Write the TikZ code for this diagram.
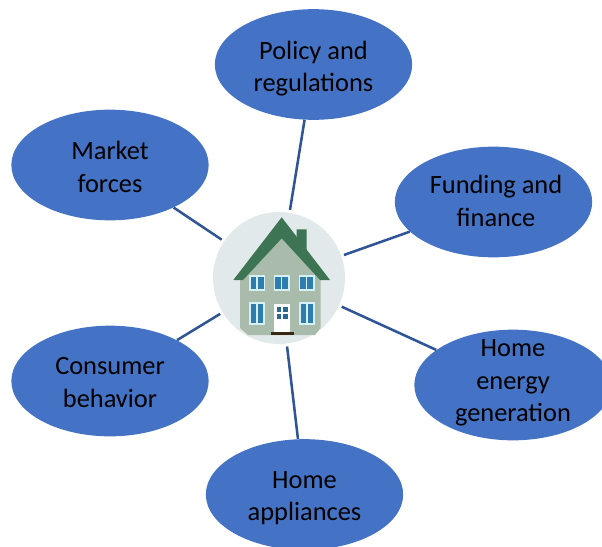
\documentclass[tikz,border=0pt]{standalone}
\usepackage{fontspec}
\setmainfont{Carlito}
\usetikzlibrary{shapes.geometric}
\definecolor{topicblue}{HTML}{4472C4}
\definecolor{linkblue}{HTML}{2F5597}
\definecolor{hubgrey}{HTML}{E2E9EA}
\definecolor{roofgreen}{HTML}{3D7554}
\definecolor{wallgreen}{HTML}{A9BCAB}
\definecolor{glassblue}{HTML}{2F7CAE}
\definecolor{framepale}{HTML}{D5F1F6}
\begin{document}
\begin{tikzpicture}[
    x=0.75pt, y=-0.75pt,
    topic/.style={ellipse,fill=topicblue,inner sep=0pt,minimum width=148pt,minimum height=83pt},
    lbl/.style={align=center,font=\fontsize{19.8}{24.5}\selectfont,text=black},
    hub/.style={circle,fill=hubgrey,inner sep=0pt,minimum size=99pt,outer sep=2.2pt},
    link/.style={draw=linkblue,line width=1.9pt},
    pane/.style={fill=glassblue,draw=framepale,line width=1.4pt}
]
\useasboundingbox (0,0) rectangle (602,546);

\node[hub] (house) at (279,278) {};
\node[topic] (policy) at (313.5,64.5) {};
\node[topic] (funding) at (493.5,202) {};
\node[topic] (market) at (110,165) {};
\node[topic] (consumer) at (110,381) {};
\node[topic] (appliances) at (304.5,494.5) {};
\node[topic] (energy) at (513,385) {};

\node[lbl] (policytext) at (313.5,68.5) {Policy and\\regulations};
\node[lbl] (fundingtext) at (496,201) {Funding and\\finance};
\node[lbl] (markettext) at (110,167) {Market\\forces};
\node[lbl] (consumertext) at (110,382.5) {Consumer\\behavior};
\node[lbl] (appliancestext) at (304.5,498) {Home\\appliances};
\node[lbl] (energytext) at (513,383) {Home\\energy\\generation};

\draw[link] (house) -- (policy);
\draw[link] (house) -- (funding);
\draw[link] (house) -- (market);
\draw[link] (house) -- (consumer);
\draw[link] (house) -- (appliances);
\draw[link] (house) -- (energy);

% the house inside the hub
\fill[roofgreen] (296.7,229.3) -- (306.7,229.3) -- (306.7,255) -- (296.7,245) -- cycle;
\fill[wallgreen] (281.7,238) -- (320.7,280) -- (320.7,328) -- (315,335) -- (248,335) -- (240,328) -- (240,280) -- cycle;
\fill[roofgreen] (281.7,217.3) -- (330,280) -- (320,280) -- (281.7,238.3) -- (243,280) -- (233.3,280) -- cycle;
\draw[pane] (250,276) rectangle (264.5,290);
\draw[pane] (274.5,276) rectangle (289,290);
\draw[pane] (299.5,276) rectangle (314,290);
\draw[pane] (250,303) rectangle (264,324);
\draw[pane] (300,303) rectangle (314,324);
\draw[framepale,line width=0.8pt] (257,276) -- (257,290);
\draw[framepale,line width=0.8pt] (281.7,276) -- (281.7,290);
\draw[framepale,line width=0.8pt] (306.5,276) -- (306.5,290);
\draw[framepale,line width=0.8pt] (257,303) -- (257,324);
\draw[framepale,line width=0.8pt] (307,303) -- (307,324);
\fill[white] (274,304) rectangle (290,332);
\fill[glassblue!85!black] (276.5,306.5) rectangle (281,311.5);
\fill[glassblue!85!black] (283,306.5) rectangle (287.5,311.5);
\fill[glassblue!85!black] (276.5,314) rectangle (281,319);
\fill[glassblue!85!black] (283,314) rectangle (287.5,319);
\fill[black!70!brown] (271,332) rectangle (293.5,335);
\end{tikzpicture}
\end{document}
